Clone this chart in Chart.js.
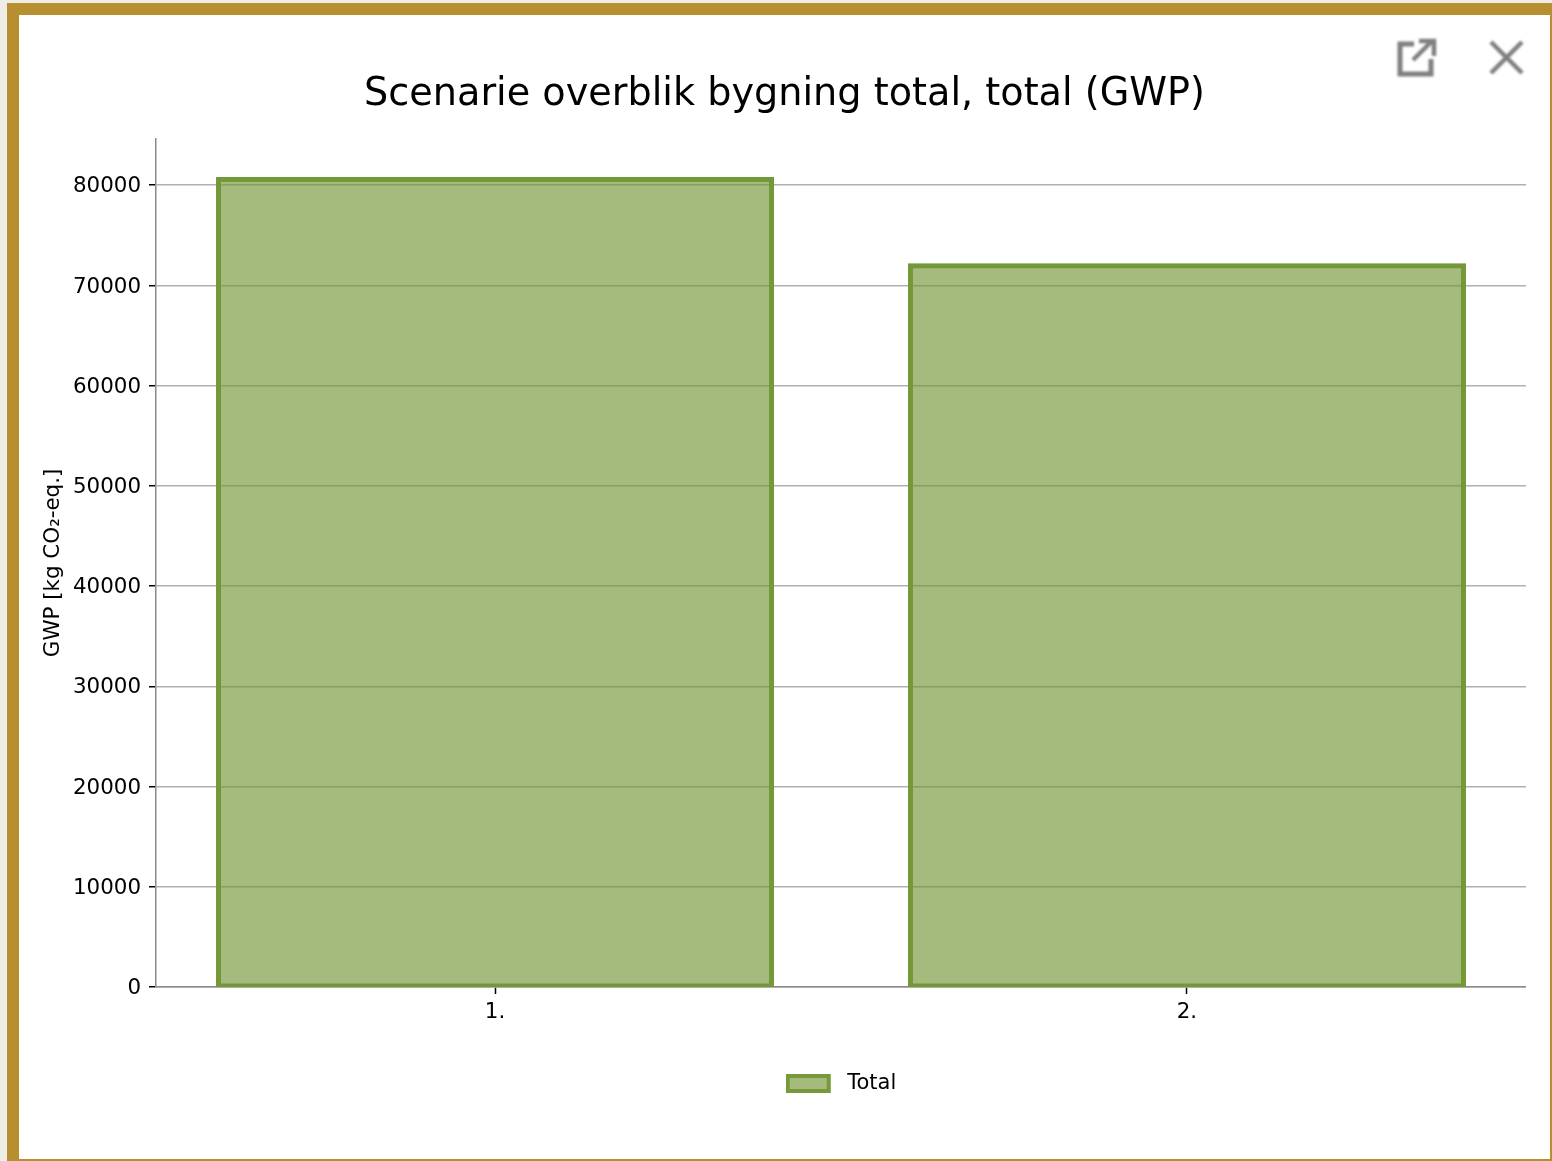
<!DOCTYPE html>
<html lang="da">
<head>
<meta charset="utf-8">
<title>Scenarie overblik</title>
<script src="https://cdn.jsdelivr.net/npm/chart.js@4"></script>
<style>
html,body{margin:0;padding:0;width:1552px;height:1161px;overflow:hidden;background:#eeeee6}
#panel{position:absolute;left:7px;top:3px;width:1545px;height:1158px;box-sizing:border-box;background:#fff;
border-style:solid;border-color:#b78f30;border-width:12px 2px 2px 12px}
#c{position:absolute;left:43px;top:15px}
svg{position:absolute;overflow:visible;filter:blur(0.8px)}
</style>
</head>
<body>
<div id="panel"></div>
<canvas id="c" width="1483" height="1144"></canvas>
<svg style="left:0;top:0" width="1552" height="100" fill="none" stroke="#7f7f7f" stroke-width="5">
<path d="M1414 44H1400V74H1431V59"/><path d="M1413 60L1432 41M1419 41H1434V56" stroke-width="4.5"/>
<path d="M1491 42L1522 73M1522 42L1491 73" stroke-width="4.5"/>
</svg>
<script>
const categories = ["1.", "2."];
const seriesName = "Total";
const totalValues = [80600, 72000];
const yTicks = [0, 10000, 20000, 30000, 40000, 50000, 60000, 70000, 80000];
const chartTitle = "Scenarie overblik bygning total, total (GWP)";
const yAxisTitle = "GWP [kg CO\u2082-eq.]";

const FONT = "'DejaVu Sans'";
const fill = "rgba(115,150,55,0.65)";
const edge = "#76993a";

// legend swatch, with a right margin to set the gap before the label
const swatch = document.createElement("canvas");
swatch.width = 51; swatch.height = 19;
const s = swatch.getContext("2d");
s.fillStyle = fill; s.fillRect(2, 2, 41, 15);
s.strokeStyle = edge; s.lineWidth = 4; s.strokeRect(2, 2, 41, 15);

new Chart(document.getElementById("c"), {
  type: "bar",
  data: {
    datasets: [{
      label: seriesName,
      data: categories.map((c, i) => ({x: i, y: totalValues[i]})),
      backgroundColor: fill,
      borderColor: edge,
      borderWidth: 0.5,
      inflateAmount: 2.25,
      borderSkipped: false,
      barPercentage: 1,
      categoryPercentage: 0.8
    }]
  },
  options: {
    responsive: false,
    animation: false,
    devicePixelRatio: 1,
    layout: {padding: {bottom: 55}},
    scales: {
      x: {
        type: "linear",
        offset: false,
        min: -0.49, max: 1.49,
        afterBuildTicks: a => { a.ticks = categories.map((c, i) => ({value: i})); },
        afterFit: a => { a.height = 46; },
        grid: {offset: false, drawOnChartArea: false, tickLength: 7, tickColor: "#000", tickWidth: 1.5},
        border: {color: "#8a8a8a", width: 1.5},
        ticks: {
          color: "#000", padding: 6, maxRotation: 0, autoSkip: false,
          font: {family: FONT, size: 21.4},
          callback: v => categories[v]
        }
      },
      y: {
        min: 0, max: 84630,
        afterBuildTicks: a => { a.ticks = yTicks.map(v => ({value: v})); },
        afterFit: a => { a.width = 113; },
        grid: {color: "#b0b0b0", lineWidth: 1.5, tickLength: 7, tickColor: "#000", tickWidth: 1.5},
        border: {color: "#8a8a8a", width: 1.5},
        ticks: {
          color: "#000", padding: 8, autoSkip: false, labelOffset: 1.5,
          font: {family: FONT, size: 21.4},
          callback: v => String(v)
        },
        title: {
          display: true, text: yAxisTitle, color: "#000", padding: 0,
          font: {family: FONT, size: 21.4, lineHeight: 1}
        }
      }
    },
    plugins: {
      tooltip: {enabled: false},
      title: {
        display: true, text: chartTitle, color: "#000",
        padding: {top: 57, bottom: 21},
        font: {family: FONT, size: 38.2, weight: "normal", lineHeight: 1.2}
      },
      legend: {
        position: "bottom", fullSize: false,
        labels: {
          color: "#000", padding: 40,
          font: {family: FONT, size: 21},
          usePointStyle: true, pointStyle: swatch, pointStyleWidth: 51
        }
      }
    }
  }
});
</script>
</body>
</html>
